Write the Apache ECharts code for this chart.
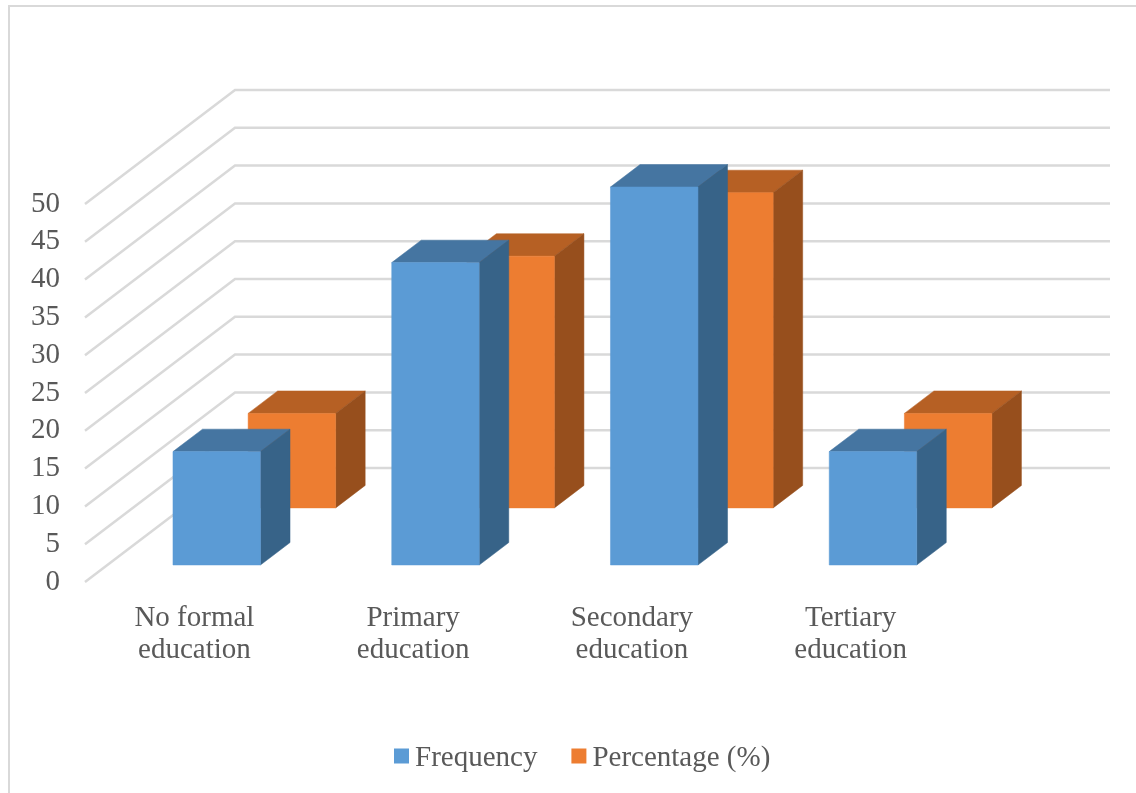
<!DOCTYPE html>
<html>
<head>
<meta charset="utf-8">
<style>html,body{margin:0;padding:0;background:#fff}#chart{width:1136px;height:793px}</style>
<script src="https://cdn.jsdelivr.net/npm/echarts@6/dist/echarts.min.js"></script>
</head>
<body>
<div id="chart"></div>
<script>
// Education level of respondents
const categories = ['No formal\neducation', 'Primary\neducation', 'Secondary\neducation', 'Tertiary\neducation'];
const frequency = [15, 40, 50, 15];
const percentage = [12.5, 33.3, 41.7, 12.5];
const valueTicks = [0, 5, 10, 15, 20, 25, 30, 35, 40, 45, 50];

// Oblique projection: how far one full step into the chart moves a point on screen
const DEPTH_X = 150;
const DEPTH_Y = -114;
const BAR_DEPTH = 0.197;
const BAR_BAND_SHARE = 0.4;

function shift(point, depth) {
  return [point[0] + DEPTH_X * depth, point[1] + DEPTH_Y * depth];
}

// A box: front face plus the top and right faces receding behind it
function boxRenderer(depth, front, top, side) {
  return function (params, api) {
    const cat = api.value(0);
    const w = api.size([1, 0])[0] * BAR_BAND_SHARE;
    const base = api.coord([cat, 0]);
    const head = api.coord([cat, api.value(1)]);
    const f = (p) => shift(p, depth);
    const b = (p) => shift(p, depth + BAR_DEPTH);
    const bl = [base[0] - w / 2, base[1]], br = [base[0] + w / 2, base[1]];
    const tl = [head[0] - w / 2, head[1]], tr = [head[0] + w / 2, head[1]];
    const face = (pts, fill) => ({
      type: 'polygon',
      shape: { points: pts },
      style: { fill: fill, stroke: fill, lineWidth: 0.5 }
    });
    return {
      type: 'group',
      children: [
        face([f(tl), f(tr), b(tr), b(tl)], top),
        face([f(tr), f(br), b(br), b(tr)], side),
        face([f(tl), f(tr), f(br), f(bl)], front)
      ]
    };
  };
}

// Floor and wall rules: a diagonal from the axis, then level across the back
function wallLine(params, api) {
  const v = api.value(1);
  const sys = params.coordSys;
  const y = api.coord([0, v])[1];
  const start = [sys.x, y];
  const corner = shift(start, 1);
  const end = [sys.x + sys.width + DEPTH_X, corner[1]];
  return {
    type: 'polyline',
    shape: { points: [start, corner, end] },
    style: { fill: 'none', stroke: '#D9D9D9', lineWidth: 2.5 },
    silent: true
  };
}

const textStyle = { fontFamily: 'Liberation Serif', fontSize: 29, color: '#595959' };

const chart = echarts.init(document.getElementById('chart'), null, { renderer: 'canvas' });
chart.setOption({
  animation: false,
  backgroundColor: '#ffffff',
  graphic: [{
    type: 'polyline',
    shape: { points: [[9, 793], [9, 6], [1136, 6]] },
    style: { fill: 'none', stroke: '#D9D9D9', lineWidth: 2 },
    silent: true
  }],
  grid: { left: 85, width: 875, top: 204, bottom: 211 },
  legend: {
    data: ['Frequency', 'Percentage (%)'],
    left: 389,
    top: 739,
    icon: 'rect',
    itemWidth: 15,
    itemHeight: 15,
    itemGap: 34,
    formatter: (name) => `{t|${name}}`,
    textStyle: Object.assign({}, textStyle, {
      rich: { t: Object.assign({}, textStyle, { padding: [5, 0, 0, 1] }) }
    })
  },
  xAxis: {
    type: 'category',
    data: categories,
    axisLine: { show: false },
    axisTick: { show: false },
    axisLabel: Object.assign({}, textStyle, { margin: 20, lineHeight: 32, interval: 0 })
  },
  yAxis: {
    type: 'value',
    min: 0,
    max: 50,
    interval: 5,
    axisLine: { show: false },
    axisTick: { show: false },
    splitLine: { show: false },
    axisLabel: Object.assign({}, textStyle, { margin: 25 })
  },
  tooltip: { show: false },
  series: [
    {
      name: 'rules',
      type: 'custom',
      renderItem: wallLine,
      data: valueTicks.map((v) => [0, v]),
      encode: { x: 0, y: 1 },
      silent: true,
      z: 1
    },
    {
      name: 'Percentage (%)',
      type: 'custom',
      renderItem: boxRenderer(0.65, '#ED7D31', '#B66024', '#974F1D'),
      itemStyle: { color: '#ED7D31' },
      data: percentage.map((v, i) => [i, v]),
      encode: { x: 0, y: 1 },
      z: 2
    },
    {
      name: 'Frequency',
      type: 'custom',
      renderItem: boxRenderer(0.149, '#5B9BD5', '#4575A1', '#376388'),
      itemStyle: { color: '#5B9BD5' },
      data: frequency.map((v, i) => [i, v]),
      encode: { x: 0, y: 1 },
      z: 3
    }
  ]
});
</script>
</body>
</html>
